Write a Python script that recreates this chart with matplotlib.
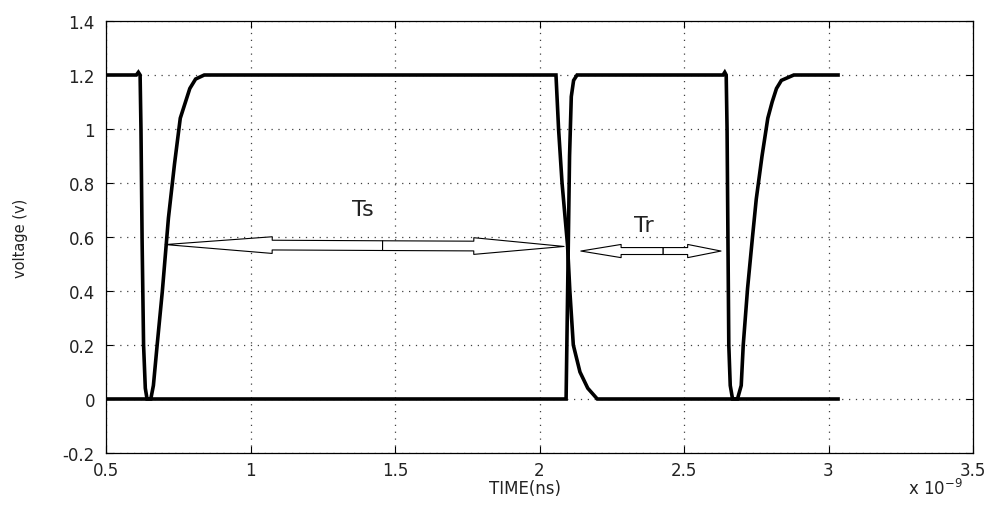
import matplotlib
matplotlib.use("Agg")
import matplotlib.pyplot as plt
from matplotlib.patches import FancyArrowPatch, ArrowStyle

plt.rcParams['font.family'] = ['DejaVu Sans']

# time in ns (axis shows x 10^-9 s), voltage in V
time_a = [0.50, 0.605, 0.612, 0.618, 0.621, 0.625, 0.630, 0.636, 0.642, 0.655,
          0.664, 0.677, 0.695, 0.716, 0.737, 0.757, 0.775, 0.790, 0.810, 0.840,
          2.057, 2.066, 2.078, 2.097, 2.105, 2.117, 2.140, 2.167, 2.200, 3.033]
volt_a = [1.20, 1.20, 1.21, 1.20, 1.00, 0.58, 0.20, 0.04, 0.00, 0.00,
          0.05, 0.20, 0.40, 0.67, 0.87, 1.04, 1.10, 1.15, 1.185, 1.20,
          1.20, 1.00, 0.80, 0.57, 0.40, 0.20, 0.10, 0.04, 0.00, 0.00]

time_b = [0.50, 2.092, 2.096, 2.100, 2.104, 2.110, 2.118, 2.130, 2.635, 2.641,
          2.646, 2.649, 2.652, 2.655, 2.660, 2.668, 2.685, 2.698, 2.705, 2.720,
          2.737, 2.750, 2.770, 2.790, 2.805, 2.820, 2.837, 2.880, 3.033]
volt_b = [0.00, 0.00, 0.30, 0.60, 0.90, 1.12, 1.18, 1.20, 1.20, 1.21,
          1.20, 1.00, 0.60, 0.20, 0.05, 0.00, 0.00, 0.05, 0.20, 0.41,
          0.60, 0.74, 0.90, 1.04, 1.10, 1.15, 1.18, 1.20, 1.20]

xticks = [0.5, 1, 1.5, 2, 2.5, 3, 3.5]
yticks = [-0.2, 0, 0.2, 0.4, 0.6, 0.8, 1, 1.2, 1.4]
xtick_labels = ['0.5', '1', '1.5', '2', '2.5', '3', '3.5']
ytick_labels = ['-0.2', '0', '0.2', '0.4', '0.6', '0.8', '1', '1.2', '1.4']

# annotation arrows: (left tip, middle, right tip)
ts_left, ts_mid, ts_right = (0.705, 0.572), (1.457, 0.568), (2.085, 0.565)
tr_left, tr_mid, tr_right = (2.143, 0.548), (2.428, 0.548), (2.628, 0.548)
ts_label = (1.39, 0.704)
tr_label = (2.362, 0.644)

fig = plt.figure(figsize=(9.96, 5.06), dpi=100)
ax = fig.add_axes([106 / 996, 52 / 506, 867 / 996, 432 / 506])

ax.plot(time_a, volt_a, color='k', lw=2.6, solid_joinstyle='miter', zorder=3)
ax.plot(time_b, volt_b, color='k', lw=2.6, solid_joinstyle='miter', zorder=3)


def block_arrow(mid, tip, head_len, head_w, tail_w):
    style = ArrowStyle.Simple(head_length=head_len, head_width=head_w, tail_width=tail_w)
    arr = FancyArrowPatch(mid, tip, arrowstyle=style, mutation_scale=1,
                          shrinkA=0, shrinkB=0, fc='white', ec='k', lw=0.8, zorder=4)
    ax.add_patch(arr)


block_arrow(ts_mid, ts_left, 77, 12, 7)
block_arrow(ts_mid, ts_right, 65, 12, 7)
block_arrow(tr_mid, tr_left, 29, 9.5, 5)
block_arrow(tr_mid, tr_right, 24, 9.5, 5)

ax.text(*ts_label, 'Ts', fontsize=16, ha='center', va='center', color='#222222')
ax.text(*tr_label, 'Tr', fontsize=16, ha='center', va='center', color='#222222')

ax.set_xlim(0.5, 3.5)
ax.set_ylim(-0.2, 1.4)
ax.set_xticks(xticks)
ax.set_xticklabels(xtick_labels)
ax.set_yticks(yticks)
ax.set_yticklabels(ytick_labels)
ax.tick_params(direction='in', length=5, width=0.8, top=True, right=True,
               labelsize=12, colors='k', labelcolor='#222222')
ax.tick_params(axis='x', pad=6)
ax.tick_params(axis='y', pad=8)
ax.grid(True, color='0.25', linestyle=(0, (1, 4.5)), linewidth=0.9)
for s in ax.spines.values():
    s.set_linewidth(0.9)

ax.set_xlabel('TIME(ns)', fontsize=12, color='#222222')
ax.xaxis.set_label_coords(0.483, -0.060)
ax.set_ylabel('voltage (v)', fontsize=10.5, color='#222222')
ax.yaxis.set_label_coords(-0.09, 0.5)
ax.text(0.925, -0.082, r'x 10$^{-9}$', transform=ax.transAxes, fontsize=12,
        ha='left', va='center', color='#222222')

fig.savefig('out.png', dpi=100)
